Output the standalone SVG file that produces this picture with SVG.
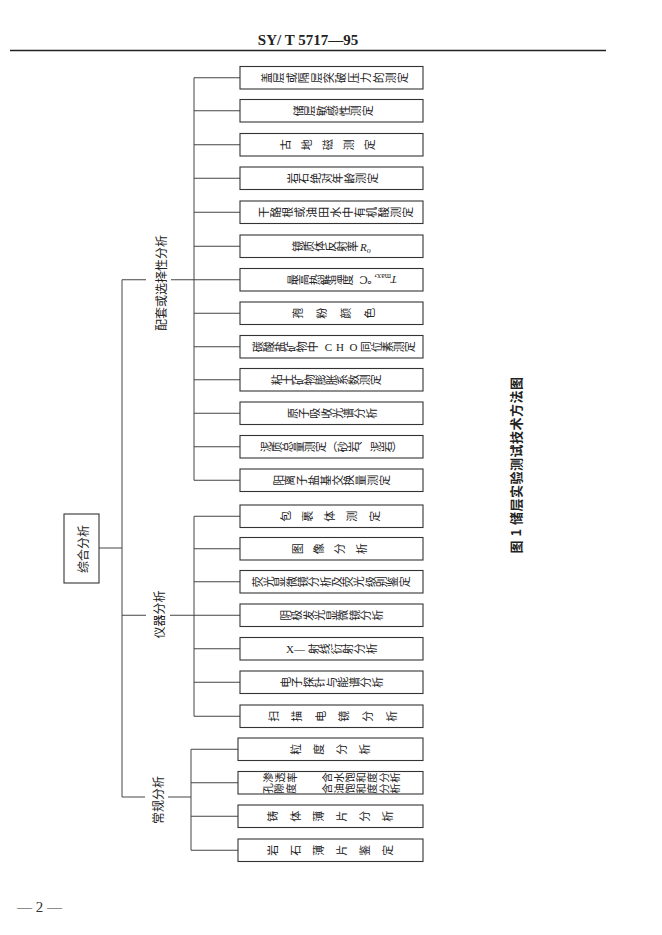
<svg xmlns="http://www.w3.org/2000/svg" width="662" height="935" viewBox="0 0 662 935">
<style>
.bx{fill:#fff;stroke:#333;stroke-width:1.1}
.v{font-family:"Noto Sans CJK SC","Noto Sans CJK JP",sans-serif;font-size:11px;writing-mode:vertical-rl;text-anchor:middle;fill:#222}
.r{font-family:"Noto Sans CJK SC","Noto Sans CJK JP",sans-serif;font-size:12px;text-anchor:middle;dominant-baseline:central;fill:#222}
.lat{font-family:"Liberation Serif","DejaVu Serif",serif;font-size:11px;fill:#222}
.conn path{stroke:#444;stroke-width:1;fill:none}
</style>
<rect width="662" height="935" fill="#fff"/>
<text x="308" y="45" text-anchor="middle" font-family="'Liberation Serif',serif" font-weight="bold" font-size="15" fill="#222">SY/ T 5717—95</text>
<path d="M10,50.5 H606" stroke="#222" stroke-width="1.6"/>
<text x="17" y="912" font-family="'Liberation Serif',serif" font-size="15" fill="#333">— 2 —</text>

<g class="conn">
<path d="M99,548 H122 M122,279.75 V797"/>
<path d="M122,279.75 H146 M171,279.75 H194 M122,615.25 H146 M170,615.25 H194 M122,797 H145 M168,797 H191"/>
<path d="M194,77.75 V480.25 M194,77.75 H240 M194,110.75 H240 M194,144.75 H240 M194,178.25 H240 M194,212.25 H240 M194,246.25 H240 M194,279.75 H240 M194,313.25 H240 M194,346.75 H240 M194,379.75 H240 M194,413.25 H240 M194,446.75 H240 M194,480.25 H240"/>
<path d="M194,516.25 V716.25 M194,516.25 H240 M194,548.75 H240 M194,581.75 H240 M194,615.25 H240 M194,648.75 H240 M194,682.25 H240 M194,716.25 H240"/>
<path d="M191,749.25 V850.25 M191,749.25 H238 M191,782.75 H238 M191,816.25 H238 M191,850.25 H238"/>
</g>

<g id="root"><rect class="bx" x="64" y="514" width="35" height="69"/><text class="r" transform="translate(82,549) rotate(-90)">综合分析</text></g>
<g id="lbl-peitao"><text class="r" transform="translate(160,283) rotate(-90)">配套或选择性分析</text></g>
<g id="lbl-yiqi"><text class="r" transform="translate(158,614.5) rotate(-90)">仪器分析</text></g>
<g id="lbl-changgui"><text class="r" transform="translate(157,800) rotate(-90)">常规分析</text></g>

<g id="n1"><rect class="bx" x="240" y="66.5" width="183" height="22.5"/><text class="v" transform="translate(335.7,77.75) rotate(-90)" style="letter-spacing:1.4px">盖层或隔层突破压力的测定</text></g>
<g id="n2"><rect class="bx" x="240" y="99.5" width="183" height="22.5"/><text class="v" transform="translate(333.25,110.75) rotate(-90)" style="letter-spacing:0.5px">储层敏感性测定</text></g>
<g id="n3"><rect class="bx" x="240" y="133.5" width="183" height="22.5"/><text class="v" transform="translate(333,144.75) rotate(-90)" style="letter-spacing:10px">古地磁测定</text></g>
<g id="n4"><rect class="bx" x="240" y="167" width="183" height="22.5"/><text class="v" transform="translate(332.7,178.25) rotate(-90)" style="letter-spacing:0.4px">岩石绝对年龄测定</text></g>
<g id="n5"><rect class="bx" x="240" y="201" width="183" height="22.5"/><text class="v" transform="translate(336,212.25) rotate(-90)" style="letter-spacing:1px">干酪根或油田水中有机酸测定</text></g>
<g id="n6"><rect class="bx" x="240" y="235" width="183" height="22.5"/><text class="v" transform="translate(325,246.25) rotate(-90)">镜质体反射率</text><text class="lat" x="360" y="250.5" font-style="italic" font-size="12">R<tspan font-size="8" dy="2">o</tspan></text></g>
<g id="n7"><rect class="bx" x="240" y="268.5" width="183" height="22.5"/><text class="v" transform="translate(320,279.75) rotate(-90)">最高热解温度</text><text class="lat" transform="translate(397,275.5) rotate(180)" font-size="12"><tspan font-style="italic">T</tspan><tspan font-size="8" dy="2">max</tspan><tspan dy="-2">, ℃</tspan></text></g>
<g id="n8"><rect class="bx" x="240" y="302" width="183" height="22.5"/><text class="v" transform="translate(340,313.25) rotate(-90)" style="letter-spacing:13px">孢粉颜色</text></g>
<g id="n9"><rect class="bx" x="240" y="335.5" width="183" height="22.5"/><text class="v" transform="translate(285.5,346.75) rotate(-90)">碳酸盐矿物中</text><text class="lat" y="350.7" text-anchor="middle"><tspan x="328.5">C</tspan><tspan x="340">H</tspan><tspan x="353.5">O</tspan></text><text class="v" transform="translate(387.5,346.75) rotate(-90)">同位素测定</text></g>
<g id="n10"><rect class="bx" x="240" y="368.5" width="183" height="22.5"/><text class="v" transform="translate(326.5,379.75) rotate(-90)">粘土矿物膨胀系数测定</text></g>
<g id="n11"><rect class="bx" x="240" y="402" width="183" height="22.5"/><text class="v" transform="translate(332.15,413.25) rotate(-90)" style="letter-spacing:0.3px">原子吸收光谱分析</text></g>
<g id="n12"><rect class="bx" x="240" y="435.5" width="183" height="22.5"/><text class="v" transform="translate(331.5,446.75) rotate(-90)">泥质总量测定（砂岩、泥岩）</text></g>
<g id="n13"><rect class="bx" x="240" y="469" width="183" height="22.5"/><text class="v" transform="translate(331.9,480.25) rotate(-90)" style="letter-spacing:0.8px">阳离子盐基交换量测定</text></g>

<g id="i1"><rect class="bx" x="240" y="505" width="183" height="22.5"/><text class="v" transform="translate(335.6,516.25) rotate(-90)" style="letter-spacing:11.25px">包裹体测定</text></g>
<g id="i2"><rect class="bx" x="240" y="537.5" width="183" height="22.5"/><text class="v" transform="translate(334.65,548.75) rotate(-90)" style="letter-spacing:10.3px">图像分析</text></g>
<g id="i3"><rect class="bx" x="240" y="570.5" width="183" height="22.5"/><text class="v" transform="translate(331.15,581.75) rotate(-90)" style="letter-spacing:0.3px">荧光显微镜分析及荧光级别鉴定</text></g>
<g id="i4"><rect class="bx" x="240" y="604" width="183" height="22.5"/><text class="v" transform="translate(331.75,615.25) rotate(-90)" style="letter-spacing:0.5px">阴极发光显微镜分析</text></g>
<g id="i5"><rect class="bx" x="240" y="637.5" width="183" height="22.5"/><text class="lat" x="286" y="652.7">X—</text><text class="v" transform="translate(342.8,648.75) rotate(-90)" style="letter-spacing:0.6px">射线衍射分析</text></g>
<g id="i6"><rect class="bx" x="240" y="671" width="183" height="22.5"/><text class="v" transform="translate(331.75,682.25) rotate(-90)" style="letter-spacing:0.5px">电子探针与能谱分析</text></g>
<g id="i7"><rect class="bx" x="240" y="705" width="183" height="22.5"/><text class="v" transform="translate(338.8,716.25) rotate(-90)" style="letter-spacing:12.6px">扫描电镜分析</text></g>

<g id="c1"><rect class="bx" x="238" y="738" width="185" height="22.5"/><text class="v" transform="translate(336,749.25) rotate(-90)" style="letter-spacing:12px">粒度分析</text></g>
<g id="c2"><rect class="bx" x="238" y="771.5" width="185" height="22.5"/>
<text class="v" transform="translate(280.6,777.5) rotate(-90)" style="font-size:10.5px;letter-spacing:1.25px">渗透率</text>
<text class="v" transform="translate(361.4,777.5) rotate(-90)" style="font-size:10.5px;letter-spacing:0.75px">含水饱和度分析</text>
<text class="v" transform="translate(280.1,788.5) rotate(-90)" style="font-size:10.5px;letter-spacing:1.25px">孔隙度</text>
<text class="v" transform="translate(361.4,788.5) rotate(-90)" style="font-size:10.5px;letter-spacing:0.75px">含油饱和度分析</text></g>
<g id="c3"><rect class="bx" x="238" y="805" width="185" height="22.5"/><text class="v" transform="translate(336,816.25) rotate(-90)" style="letter-spacing:12px">铸体薄片分析</text></g>
<g id="c4"><rect class="bx" x="238" y="839" width="185" height="22.5"/><text class="v" transform="translate(336,850.25) rotate(-90)" style="letter-spacing:12px">岩石薄片鉴定</text></g>

<g id="caption"><text transform="translate(515,465) rotate(-90)" text-anchor="middle" dominant-baseline="central" font-family="'Noto Sans CJK SC',sans-serif" font-weight="bold" font-size="13" letter-spacing="0.5" fill="#222">图 1  储层实验测试技术方法图</text></g>
</svg>
